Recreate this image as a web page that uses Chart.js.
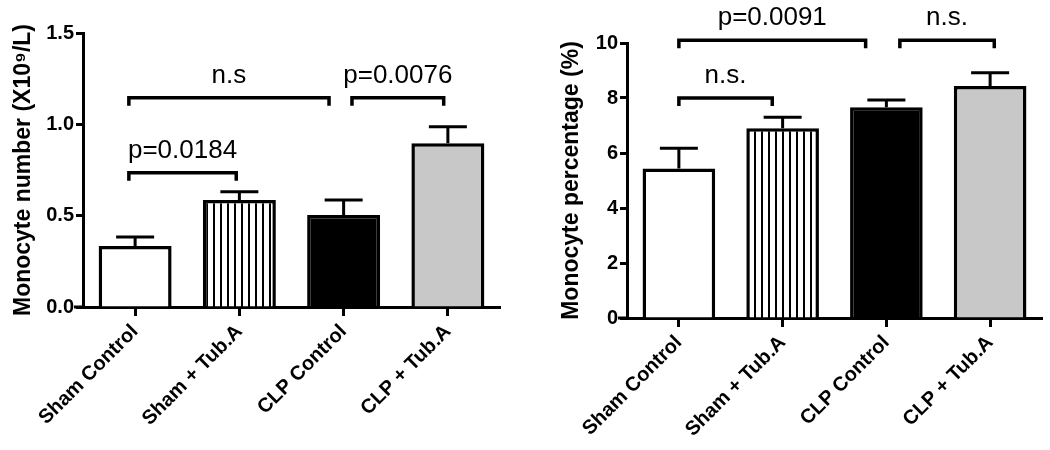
<!DOCTYPE html>
<html lang="en">
<head>
<meta charset="UTF-8" />
<title>Monocyte number and percentage</title>
<script src="https://cdn.jsdelivr.net/npm/chart.js"></script>
<style>
  body { margin: 0; background: #fff; }
  .row { display: flex; width: 1050px; height: 450px; }
  #numberChart { width: 520px; height: 450px; }
  #percentChart { width: 530px; height: 450px; }
</style>
</head>
<body>
<div class="row">
  <canvas id="numberChart" width="520" height="450"></canvas>
  <canvas id="percentChart" width="530" height="450"></canvas>
</div>
<script>
const groups = ["Sham Control", "Sham + Tub.A", "CLP Control", "CLP + Tub.A"];

const numberMeans = [0.334, 0.586, 0.504, 0.896];
const numberSem = [0.049, 0.045, 0.082, 0.091];
const numberTicks = [0, 0.5, 1.0, 1.5];
// [from category, to category, level, text]
const numberBrackets = [
  [-0.06, 0.97, 0.735, "p=0.0184"],
  [-0.06, 1.86, 1.145, "n.s"],
  [2.08, 2.96, 1.145, "p=0.0076"]
];

const percentMeans = [5.44, 6.9, 7.66, 8.44];
const percentSem = [0.73, 0.4, 0.27, 0.48];
const percentTicks = [0, 2, 4, 6, 8, 10];
const percentBrackets = [
  [0, 0.9, 8.0, "n.s."],
  [0, 1.8, 10.1, "p=0.0091"],
  [2.13, 3.04, 10.1, "n.s."]
];

const FONT = "'Liberation Sans', Arial, sans-serif";
Chart.defaults.font.family = FONT;
Chart.defaults.color = "#000";

// vertical line fill for the Sham + Tub.A bar
function stripes() {
  const c = document.createElement("canvas");
  c.width = 7; c.height = 10;
  const g = c.getContext("2d");
  g.fillStyle = "#fff";
  g.fillRect(0, 0, 7, 10);
  g.fillStyle = "#000";
  g.fillRect(3, 0, 2, 10);
  return g.createPattern(c, "repeat");
}

const sigMarks = {
  id: "sigMarks",
  afterDatasetsDraw(chart, args, opts) {
    const ctx = chart.ctx;
    const y = chart.scales.y;
    const meta = chart.getDatasetMeta(0);
    const means = chart.data.datasets[0].data;
    ctx.save();
    ctx.strokeStyle = "#000";
    ctx.lineWidth = 3;
    opts.errors.forEach((err, i) => {
      const bar = meta.data[i];
      const top = y.getPixelForValue(means[i] + err);
      ctx.beginPath();
      ctx.moveTo(bar.x, bar.y);
      ctx.lineTo(bar.x, top);
      ctx.moveTo(bar.x - 19, top);
      ctx.lineTo(bar.x + 19, top);
      ctx.stroke();
    });
    ctx.restore();
  },
  afterDraw(chart, args, opts) {
    const ctx = chart.ctx;
    const x = chart.scales.x, y = chart.scales.y;
    const area = chart.chartArea;
    ctx.save();
    ctx.strokeStyle = "#000";
    ctx.fillStyle = "#000";
    // x axis runs a little past the y axis
    ctx.lineWidth = 3;
    ctx.beginPath();
    ctx.moveTo(area.left - 9, area.bottom);
    ctx.lineTo(area.left, area.bottom);
    ctx.stroke();

    ctx.lineWidth = 3.5;
    ctx.font = "26px " + FONT;
    ctx.textAlign = "center";
    ctx.textBaseline = "alphabetic";
    opts.brackets.forEach(([from, to, level, text]) => {
      const x1 = x.getPixelForValue(from);
      const x2 = x.getPixelForValue(to);
      const yy = y.getPixelForValue(level);
      ctx.beginPath();
      ctx.moveTo(x1, yy + 8);
      ctx.lineTo(x1, yy);
      ctx.lineTo(x2, yy);
      ctx.lineTo(x2, yy + 8);
      ctx.stroke();
      ctx.fillText(text, (x1 + x2) / 2, yy - 15);
    });
    ctx.restore();
  }
};

function makeChart(id, means, sem, ticks, brackets, title, box) {
  new Chart(document.getElementById(id), {
    type: "bar",
    data: {
      labels: groups,
      datasets: [{
        data: means,
        backgroundColor: ["#fff", stripes(), "#000", "#c8c8c8"],
        borderColor: "#000",
        borderWidth: 3.5,
        barPercentage: 0.7,
        categoryPercentage: 1
      }]
    },
    options: {
      responsive: false,
      animation: false,
      layout: { padding: { top: box.top, right: box.right, left: 0, bottom: 0 } },
      plugins: {
        legend: { display: false },
        tooltip: { enabled: false },
        sigMarks: { errors: sem, brackets: brackets }
      },
      scales: {
        x: {
          offset: true,
          afterFit: s => { s.height = box.xHeight; },
          grid: { offset: false, drawOnChartArea: false, tickLength: 9, tickWidth: 3, tickColor: "#000" },
          border: { display: true, color: "#000", width: 3 },
          ticks: {
            autoSkip: false, minRotation: 45, maxRotation: 45, padding: 4,
            font: { size: 20, weight: "bold" }
          }
        },
        y: {
          min: ticks[0],
          max: ticks[ticks.length - 1],
          afterFit: s => { s.width = box.yWidth; },
          afterBuildTicks: s => { s.ticks = ticks.map(v => ({ value: v })); },
          grid: { drawOnChartArea: false, tickLength: 7, tickWidth: 3, tickColor: "#000" },
          border: { display: true, color: "#000", width: 3 },
          ticks: {
            padding: 2,
            font: { size: 20, weight: "bold" },
            callback: v => box.decimals ? v.toFixed(box.decimals) : String(v)
          },
          title: {
            display: true,
            text: title,
            padding: { top: box.titlePad, bottom: 0 },
            font: { size: 23, weight: "bold" }
          }
        }
      }
    },
    plugins: [sigMarks]
  });
}

makeChart("numberChart", numberMeans, numberSem, numberTicks, numberBrackets,
  "Monocyte number (X10\u2079/L)",
  { top: 33, right: 20, xHeight: 143, yWidth: 83, titlePad: 10, decimals: 1 });

makeChart("percentChart", percentMeans, percentSem, percentTicks, percentBrackets,
  "Monocyte percentage (%)",
  { top: 43, right: 8, xHeight: 132, yWidth: 107, titlePad: 38, decimals: 0 });
</script>
</body>
</html>
